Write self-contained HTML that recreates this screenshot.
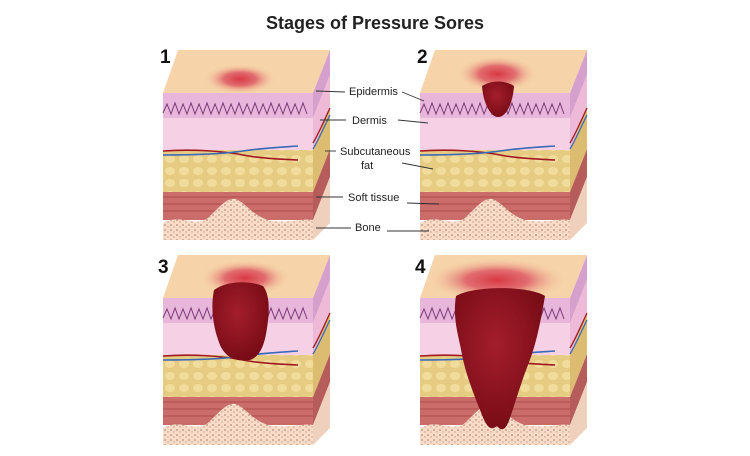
<!DOCTYPE html>
<html><head><meta charset="utf-8"><style>
html,body{margin:0;padding:0;background:#fff;width:750px;height:456px;overflow:hidden}
svg{display:block}
text{font-family:"Liberation Sans",sans-serif}
</style></head><body>
<svg width="750" height="456" viewBox="0 0 750 456" xmlns="http://www.w3.org/2000/svg">
<defs>
<radialGradient id="glow" cx="50%" cy="50%" r="50%">
<stop offset="0" stop-color="#d83844"/><stop offset="0.45" stop-color="#de5a64" stop-opacity="0.85"/><stop offset="1" stop-color="#f6d3a8" stop-opacity="0"/>
</radialGradient>
<radialGradient id="sore" cx="45%" cy="40%" r="60%">
<stop offset="0" stop-color="#a41e2c"/><stop offset="1" stop-color="#780c16"/>
</radialGradient>
<pattern id="dots" width="6" height="5" patternUnits="userSpaceOnUse">
<rect width="6" height="5" fill="#f8dcc8"/><circle cx="2" cy="2" r="0.9" fill="#b88a78"/><circle cx="5" cy="4" r="0.7" fill="#c49888"/>
</pattern>
<pattern id="fat" width="14" height="12" patternUnits="userSpaceOnUse">
<rect width="14" height="12" fill="#e6cc82"/><ellipse cx="7" cy="6" rx="5" ry="4" fill="#f2dc9c"/>
</pattern>
<g id="block">
<polygon points="0,0 15,-43 167,-43 150,0" fill="#f6d3a8"/>
<rect x="0" y="0" width="150" height="25" fill="#e8b6da"/>
<rect x="0" y="25" width="150" height="32" fill="#f6d0e4"/>
<rect x="0" y="57" width="150" height="42" fill="url(#fat)"/>
<rect x="0" y="99" width="150" height="28" fill="#c96c6a"/>
<path d="M0,104 H150 M0,111 H150 M0,118 H150" stroke="#b85858" stroke-width="1.5" fill="none"/>
<path d="M0,130 C20,120 30,135 45,125 C60,110 65,105 72,106 C82,108 90,125 110,128 C130,130 140,125 150,127 V147 H0 Z" fill="url(#dots)"/>
<path d="M0,20 l4,-9 4,10 4,-11 4,11 4,-10 4,10 4,-11 4,11 4,-10 4,10 4,-11 4,11 4,-10 4,10 4,-11 4,11 4,-10 4,10 4,-11 4,11 4,-10 4,10 4,-11 4,11 4,-10 4,10 4,-11 4,11 4,-10 4,10 4,-11 4,11 4,-10 4,10 4,-11 4,11" stroke="#7a3a7a" stroke-width="1" fill="none"/>
<path d="M0,58 C30,56 60,58 80,62 C100,66 120,66 135,67" stroke="#a01820" stroke-width="1.6" fill="none"/>
<path d="M0,62 C30,62 60,61 80,58 C100,55 120,54 135,53" stroke="#3a6ab8" stroke-width="1.6" fill="none"/>
<polygon points="150,0 167,-43 167,-18 150,25" fill="#d6a0cc"/>
<polygon points="150,25 167,-18 167,14 150,57" fill="#eebad8"/>
<polygon points="150,57 167,14 167,56 150,99" fill="#dcbc70"/>
<polygon points="150,99 167,56 167,84 150,127" fill="#b65c5a"/>
<polygon points="150,127 167,84 167,130 150,147" fill="#eed0bc"/>
<path d="M150,50 C156,40 160,30 167,15" stroke="#a01820" stroke-width="1.3" fill="none"/>
<path d="M150,56 C156,46 161,34 167,22" stroke="#3a6ab8" stroke-width="1.3" fill="none"/>
</g>
</defs>

<text x="375" y="29" text-anchor="middle" font-size="18" font-weight="bold" fill="#222">Stages of Pressure Sores</text>

<use href="#block" transform="translate(163,93)"/>
<ellipse cx="240" cy="79" rx="36" ry="15" fill="url(#glow)"/>

<use href="#block" transform="translate(420,93)"/>
<ellipse cx="497" cy="74" rx="40" ry="18" fill="url(#glow)"/>
<path d="M482,86 C483,102 490,117 498,117 C507,117 513,102 514,86 C505,80 492,80 482,86 Z" fill="url(#sore)"/>

<use href="#block" transform="translate(163,298)"/>
<ellipse cx="245" cy="278" rx="45" ry="18" fill="url(#glow)"/>
<path d="M214,290 C210,310 214,330 220,345 C226,358 236,362 250,360 C262,356 266,340 268,320 C270,305 268,292 263,286 C248,280 226,281 214,290 Z" fill="url(#sore)"/>

<use href="#block" transform="translate(420,298)"/>
<ellipse cx="497" cy="280" rx="70" ry="22" fill="url(#glow)"/>
<path d="M456,296 C452,320 460,340 462,355 C466,375 474,395 482,415 C486,425 490,432 497,426 C502,432 506,430 510,418 C516,400 522,380 528,365 C536,345 540,325 545,296 C530,286 475,285 456,296 Z" fill="url(#sore)"/>

<g font-size="19" font-weight="bold" fill="#111">
<text x="160" y="63">1</text><text x="417" y="63">2</text>
<text x="158" y="273">3</text><text x="415" y="273">4</text>
</g>

<g font-size="11" fill="#222">
<text x="349" y="95">Epidermis</text>
<text x="352" y="124">Dermis</text>
<text x="340" y="155">Subcutaneous</text>
<text x="361" y="169">fat</text>
<text x="348" y="201">Soft tissue</text>
<text x="355" y="231">Bone</text>
</g>
<g stroke="#333" stroke-width="0.9" fill="none">
<line x1="316" y1="91" x2="345" y2="92"/><line x1="402" y1="92" x2="424" y2="101"/>
<line x1="320" y1="120" x2="346" y2="120"/><line x1="398" y1="120" x2="428" y2="123"/>
<line x1="325" y1="151" x2="336" y2="151"/><line x1="402" y1="163" x2="433" y2="169"/>
<line x1="316" y1="197" x2="343" y2="197"/><line x1="407" y1="203" x2="439" y2="204"/>
<line x1="316" y1="228" x2="351" y2="228"/><line x1="387" y1="231" x2="429" y2="231"/>
</g>
</svg>
</body></html>
